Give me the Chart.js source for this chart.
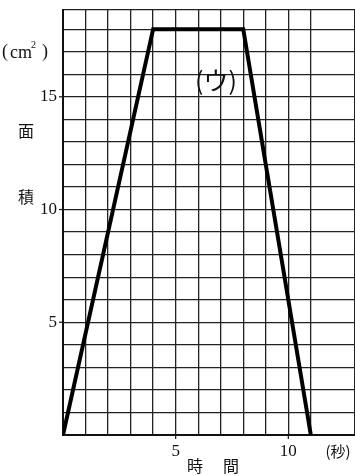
<!DOCTYPE html>
<html>
<head>
<meta charset="utf-8">
<script src="https://cdn.jsdelivr.net/npm/chart.js@4"></script>
<style>
  html, body { margin: 0; padding: 0; background: #fff; }
  #wrap { width: 355px; height: 475px; }
</style>
</head>
<body>
<div id="wrap"><canvas id="area-chart"></canvas></div>
<script>
// time (sec) and area (cm2) of the graph
const seconds = [0, 4, 8, 11];
const areas = [0, 18, 18, 0];
const xTickLabels = [5, 10];
const yTickLabels = [5, 10, 15];

const serif = '"Liberation Serif", "DejaVu Serif", serif';
const jp = '"Noto Sans CJK JP", sans-serif';

// draws the labels of the original figure at scale positions
const labelPlugin = {
  id: "labels",
  afterDraw(chart) {
    const ctx = chart.ctx;
    const xs = chart.scales.x;
    const ys = chart.scales.y;
    const bottom = ys.getPixelForValue(0);
    const left = xs.getPixelForValue(0);
    ctx.save();
    ctx.fillStyle = "#111";
    ctx.strokeStyle = "#111";
    ctx.lineWidth = 1.2;

    ctx.font = "17px " + serif;
    ctx.textBaseline = "middle";
    ctx.textAlign = "right";
    yTickLabels.forEach(v => {
      const y = ys.getPixelForValue(v);
      ctx.fillText(String(v), left - 6, y);
      ctx.beginPath();
      ctx.moveTo(left - 4, y);
      ctx.lineTo(left, y);
      ctx.stroke();
    });

    ctx.textAlign = "center";
    xTickLabels.forEach(v => {
      const x = xs.getPixelForValue(v);
      ctx.fillText(String(v), x, bottom + 17);
      ctx.beginPath();
      ctx.moveTo(x, bottom);
      ctx.lineTo(x, bottom + 4);
      ctx.stroke();
    });

    // (cm2) unit label
    ctx.textAlign = "left";
    ctx.font = "18px " + serif;
    let ux = 2;
    ctx.fillText("(", ux, 52);
    ux += ctx.measureText("(").width + 2;
    ctx.fillText("cm", ux, 53);
    ux += ctx.measureText("cm").width;
    ctx.font = "10px " + serif;
    ctx.fillText("2", ux - 1, 45);
    ux += ctx.measureText("2").width + 5;
    ctx.font = "18px " + serif;
    ctx.fillText(")", ux, 52);

    ctx.font = "16px " + jp;
    ctx.textAlign = "center";
    ctx.fillText("面", 26, 131);
    ctx.fillText("積", 26, 197);
    ctx.fillText("時", 195, 466);
    ctx.fillText("間", 231, 466);
    ctx.font = "15px " + jp;
    ctx.fillText("(秒)", 338, 451);

    ctx.font = "25px " + jp;
    ctx.fillText("(ウ)", 216, 80);
    ctx.restore();
  }
};

new Chart(document.getElementById("area-chart"), {
  type: "line",
  data: {
    datasets: [{
      data: seconds.map((s, i) => ({ x: s, y: areas[i] })),
      borderColor: "#000",
      borderWidth: 4,
      pointRadius: 0,
      tension: 0,
      fill: false
    }]
  },
  options: {
    responsive: true,
    maintainAspectRatio: false,
    animation: false,
    layout: { padding: { top: 10, right: 0, left: 0, bottom: 0 } },
    plugins: { legend: { display: false }, tooltip: { enabled: false } },
    scales: {
      x: {
        type: "linear",
        min: 0,
        max: 12.96,
        afterFit: s => { s.height = 40; },
        ticks: { display: false, stepSize: 1 },
        grid: { color: "#222", lineWidth: 1.3, drawTicks: false },
        border: { color: "#111", width: 2 }
      },
      y: {
        min: 0,
        max: 18.85,
        afterFit: s => { s.width = 63; },
        ticks: { display: false, stepSize: 1 },
        grid: { color: "#222", lineWidth: 1.3, drawTicks: false },
        border: { color: "#111", width: 2 }
      }
    }
  },
  plugins: [labelPlugin]
});
</script>
</body>
</html>
